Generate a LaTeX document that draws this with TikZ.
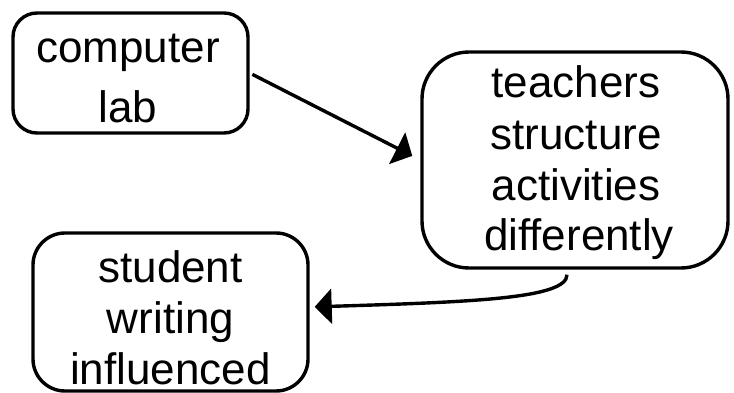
\documentclass[tikz,border=0pt]{standalone}
\usepackage{fontspec}
\setmainfont{Liberation Sans}
\usetikzlibrary{arrows.meta}
\begin{document}
\begin{tikzpicture}[x=1pt,y=-1pt,
  boxnode/.style={draw=black, line width=3.4pt, inner sep=0pt, fill=white},
  txt/.style={anchor=base, inner sep=0pt, font=\fontsize{44}{52}\selectfont},
  conn/.style={draw=black, line width=3.4pt, -{Triangle[length=17pt,width=35pt]}}]
\useasboundingbox (0,0) rectangle (734,393);
\node[boxnode, rounded corners=24pt, minimum width=235pt, minimum height=120pt] (lab) at (130.5,73) {};
\node[boxnode, rounded corners=47pt, minimum width=306pt, minimum height=216pt] (teach) at (575,160) {};
\node[boxnode, rounded corners=32pt, minimum width=275pt, minimum height=158pt] (stud) at (170.5,312) {};
% texts
\node[txt] (lab1) at (128,63) {computer};
\node[txt] (lab2) at (128,123) {lab};
\node[txt] (t1) at (576,98) {teachers};
\node[txt] (t2) at (576,149.5) {structure};
\node[txt] (t3) at (576,200.5) {activities};
\node[txt] (t4) at (579,250) {differently};
\node[txt] (s1) at (170.5,282) {student};
\node[txt] (s2) at (170.5,333) {writing};
\node[txt] (s3) at (170.5,384) {influenced};
% connectors
\draw[conn, shorten <=3pt, shorten >=9pt] (lab.east) -- (teach.west);
\draw[conn, shorten <=5pt, shorten >=5pt] ([xshift=-8pt]teach.south) .. controls +(0,29) and +(162,-5) .. ([yshift=5pt]stud.east);
\end{tikzpicture}
\end{document}
